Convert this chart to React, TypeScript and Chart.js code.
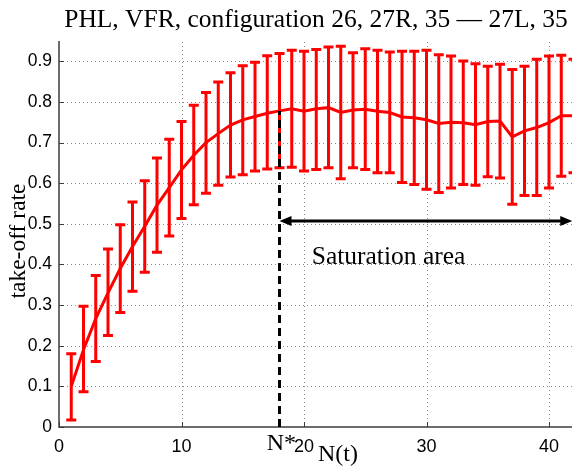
import React, { useEffect, useRef } from "react";
import { Chart, registerables } from "chart.js";

Chart.register(...registerables);

// ---------- data ----------
const nValues = [
  1, 2, 3, 4, 5, 6, 7, 8, 9, 10, 11, 12, 13, 14, 15, 16, 17, 18, 19, 20, 21,
  22, 23, 24, 25, 26, 27, 28, 29, 30, 31, 32, 33, 34, 35, 36, 37, 38, 39, 40, 41, 42,
];
const meanRate = [
  0.1, 0.19, 0.267, 0.33, 0.39, 0.444, 0.494, 0.546, 0.589, 0.633, 0.669, 0.7,
  0.722, 0.743, 0.756, 0.764, 0.772, 0.778, 0.783, 0.777, 0.783, 0.786, 0.774,
  0.78, 0.782, 0.777, 0.774, 0.763, 0.761, 0.756, 0.747, 0.75, 0.749, 0.744,
  0.752, 0.753, 0.714, 0.729, 0.737, 0.749, 0.766, 0.766,
];
const upperRate = [
  0.18, 0.297, 0.373, 0.438, 0.498, 0.554, 0.606, 0.662, 0.708, 0.752, 0.792,
  0.823, 0.849, 0.872, 0.889, 0.898, 0.914, 0.919, 0.927, 0.925, 0.929, 0.935,
  0.937, 0.921, 0.931, 0.927, 0.923, 0.925, 0.925, 0.927, 0.916, 0.913, 0.901,
  0.894, 0.888, 0.893, 0.88, 0.888, 0.905, 0.913, 0.915, 0.905,
];
const lowerRate = [
  0.017, 0.087, 0.161, 0.225, 0.282, 0.334, 0.381, 0.43, 0.47, 0.513, 0.547,
  0.575, 0.595, 0.615, 0.621, 0.63, 0.635, 0.638, 0.639, 0.63, 0.634, 0.638,
  0.611, 0.638, 0.634, 0.626, 0.626, 0.602, 0.597, 0.585, 0.577, 0.588, 0.597,
  0.595, 0.616, 0.613, 0.548, 0.57, 0.57, 0.588, 0.617, 0.626,
];
const xTickValues = [0, 10, 20, 30, 40];
const yTickValues = [0, 0.1, 0.2, 0.3, 0.4, 0.5, 0.6, 0.7, 0.8, 0.9];

const titleText = "PHL, VFR, configuration 26, 27R, 35 \u2014 27L, 35";
const xAxisLabel = "N(t)";
const yAxisLabel = "take-off rate";
const nStar = 18;
const nStarLabel = "N*";
const saturationY = 0.507;
const saturationEnd = 41.9;
const saturationLabel = "Saturation area";
const saturationLabelX = 26.9;
const saturationLabelY = 0.4;

// ---------- styles ----------
const W = 600;
const H = 467;
const RED = "#ff0000";
const SERIF = "'Liberation Serif', 'Times New Roman', serif";
const SANS = "'Liberation Sans', Arial, sans-serif";

const gridPlugin = {
  id: "matlabGrid",
  beforeDatasetsDraw(chart: any) {
    const { ctx, chartArea: a, scales } = chart;
    const xs = scales.x;
    const ys = scales.y;
    ctx.save();
    ctx.strokeStyle = "#8a8a8a";
    ctx.lineWidth = 1;
    ctx.setLineDash([1, 3]);
    for (const v of xTickValues) {
      if (v === 0) continue;
      const px = Math.round(xs.getPixelForValue(v)) + 0.5;
      ctx.beginPath();
      ctx.moveTo(px, a.bottom);
      ctx.lineTo(px, a.top);
      ctx.stroke();
    }
    for (const v of yTickValues) {
      if (v === 0) continue;
      const py = Math.round(ys.getPixelForValue(v)) + 0.5;
      ctx.beginPath();
      ctx.moveTo(a.left, py);
      ctx.lineTo(a.right, py);
      ctx.stroke();
    }
    ctx.setLineDash([]);
    // axes
    ctx.strokeStyle = "#3c3c3c";
    ctx.lineWidth = 1.5;
    ctx.beginPath();
    ctx.moveTo(a.left, a.top);
    ctx.lineTo(a.left, a.bottom);
    ctx.lineTo(a.right, a.bottom);
    ctx.stroke();
    // inward ticks
    ctx.lineWidth = 1;
    for (const v of xTickValues) {
      const px = Math.round(xs.getPixelForValue(v)) + 0.5;
      ctx.beginPath();
      ctx.moveTo(px, a.bottom);
      ctx.lineTo(px, a.bottom - 5);
      ctx.stroke();
    }
    for (const v of yTickValues) {
      const py = Math.round(ys.getPixelForValue(v)) + 0.5;
      ctx.beginPath();
      ctx.moveTo(a.left, py);
      ctx.lineTo(a.left + 5, py);
      ctx.stroke();
    }
    // error bars
    ctx.strokeStyle = RED;
    ctx.lineWidth = 3;
    ctx.lineCap = "butt";
    for (let i = 0; i < nValues.length; i++) {
      const px = xs.getPixelForValue(nValues[i]);
      const yt = ys.getPixelForValue(upperRate[i]);
      const yb = ys.getPixelForValue(lowerRate[i]);
      ctx.beginPath();
      ctx.moveTo(px, yt);
      ctx.lineTo(px, yb);
      ctx.moveTo(px - 5, yt);
      ctx.lineTo(px + 5, yt);
      ctx.moveTo(px - 5, yb);
      ctx.lineTo(px + 5, yb);
      ctx.stroke();
    }
    ctx.restore();
  },
  afterDatasetsDraw(chart: any) {
    const { ctx, chartArea: a, scales } = chart;
    const xs = scales.x;
    const ys = scales.y;
    ctx.save();
    // dashed N* line
    const idx = nValues.indexOf(nStar);
    const sx = xs.getPixelForValue(nStar);
    ctx.strokeStyle = "#000";
    ctx.lineWidth = 3;
    ctx.setLineDash([8, 5]);
    ctx.beginPath();
    ctx.moveTo(sx, a.bottom);
    ctx.lineTo(sx, ys.getPixelForValue(meanRate[idx]));
    ctx.stroke();
    ctx.setLineDash([]);
    // arrow
    const ay = ys.getPixelForValue(saturationY);
    const ex = xs.getPixelForValue(saturationEnd);
    ctx.lineWidth = 3;
    ctx.beginPath();
    ctx.moveTo(sx + 8, ay);
    ctx.lineTo(ex - 8, ay);
    ctx.stroke();
    ctx.fillStyle = "#000";
    ctx.beginPath();
    ctx.moveTo(sx, ay);
    ctx.lineTo(sx + 12, ay - 5);
    ctx.lineTo(sx + 12, ay + 5);
    ctx.closePath();
    ctx.fill();
    ctx.beginPath();
    ctx.moveTo(ex, ay);
    ctx.lineTo(ex - 12, ay - 5);
    ctx.lineTo(ex - 12, ay + 5);
    ctx.closePath();
    ctx.fill();
    // saturation label
    ctx.font = `25.5px ${SERIF}`;
    ctx.textAlign = "center";
    ctx.textBaseline = "alphabetic";
    ctx.fillText(
      saturationLabel,
      xs.getPixelForValue(saturationLabelX),
      ys.getPixelForValue(saturationLabelY)
    );
    ctx.restore();
  },
  afterDraw(chart: any) {
    const { ctx, scales } = chart;
    const xs = scales.x;
    ctx.save();
    ctx.fillStyle = "#000";
    ctx.textBaseline = "alphabetic";
    ctx.font = `25.5px ${SERIF}`;
    ctx.textAlign = "center";
    ctx.fillText(titleText, 316, 27);
    ctx.font = `24px ${SERIF}`;
    ctx.fillText(xAxisLabel, 338, 461);
    ctx.font = `24px ${SERIF}`;
    ctx.textAlign = "right";
    ctx.fillText(nStarLabel, xs.getPixelForValue(20) - 8, 450);
    ctx.textAlign = "center";
    ctx.translate(25, 241);
    ctx.rotate(-Math.PI / 2);
    ctx.font = `23.5px ${SERIF}`;
    ctx.fillText(yAxisLabel, 0, 0);
    ctx.restore();
  },
};

export default function App() {
  const ref = useRef<HTMLCanvasElement | null>(null);
  useEffect(() => {
    if (!ref.current) return;
    const chart = new Chart(ref.current, {
      type: "line",
      data: {
        datasets: [
          {
            data: nValues.map((n, i) => ({ x: n, y: meanRate[i] })),
            borderColor: RED,
            borderWidth: 3,
            pointRadius: 0,
            tension: 0,
            fill: false,
          },
        ],
      },
      options: {
        responsive: false,
        animation: false,
        devicePixelRatio: 1,
        layout: { padding: { top: 41, right: 26.5, left: 0, bottom: 0 } },
        plugins: {
          legend: { display: false },
          title: { display: false },
          tooltip: { enabled: false },
        },
        scales: {
          x: {
            type: "linear",
            min: 0,
            max: 42,
            afterFit: (s: any) => {
              s.height = 40;
            },
            grid: { display: false, drawTicks: false },
            border: { display: false },
            ticks: {
              stepSize: 10,
              includeBounds: false,
              color: "#000",
              padding: 9,
              maxRotation: 0,
              font: { family: SANS, size: 18 },
            },
          },
          y: {
            type: "linear",
            min: 0,
            max: 0.95,
            afterFit: (s: any) => {
              s.width = 59;
            },
            grid: { display: false, drawTicks: false },
            border: { display: false },
            ticks: {
              stepSize: 0.1,
              includeBounds: false,
              color: "#000",
              padding: 7,
              font: { family: SANS, size: 17.5 },
              callback: (v: any) => (Number(v) === 0 ? "0" : Number(v).toFixed(1)),
            },
          },
        },
      },
      plugins: [gridPlugin],
    } as any);
    return () => chart.destroy();
  }, []);
  return (
    <div
      style={{
        position: "fixed",
        left: 0,
        top: 0,
        width: 572,
        height: 467,
        overflow: "hidden",
        background: "#fff",
      }}
    >
      <canvas ref={ref} width={W} height={H} style={{ display: "block" }} />
    </div>
  );
}
